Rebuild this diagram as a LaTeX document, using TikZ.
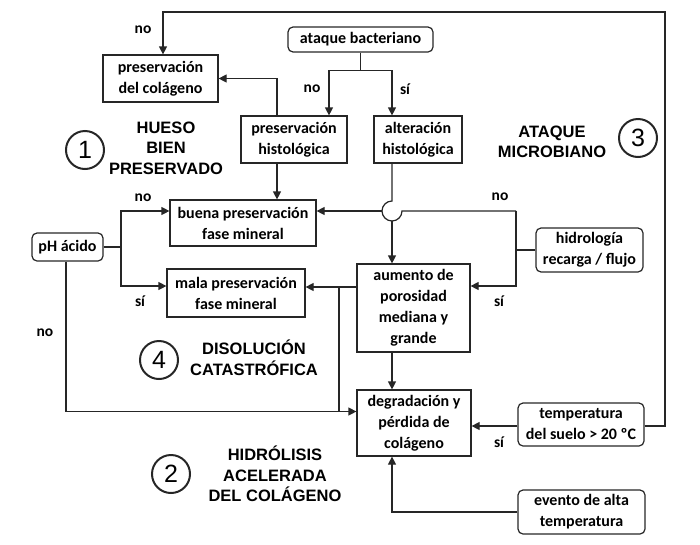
\documentclass[tikz,border=0pt]{standalone}
\usepackage{fontspec}
\setmainfont{Carlito}
\newfontfamily\headfont{Liberation Sans}
\usetikzlibrary{arrows.meta}

\tikzset{
  box/.style={draw, rectangle, line width=1.2pt, align=center, inner sep=0pt,
    font=\bfseries\fontsize{16}{21}\selectfont},
  rbox/.style={box, rounded corners=5pt},
  lbl/.style={font=\bfseries\fontsize{15.5}{18}\selectfont},
  head/.style={align=center, font=\headfont\bfseries\fontsize{16.5}{20.5}\selectfont},
  num/.style={draw, circle, line width=2pt, minimum size=38pt, inner sep=0pt,
    font=\headfont\fontsize{25}{25}\selectfont},
  arr/.style={-{Triangle[length=8pt,width=8pt]}},
}

\begin{document}
\begin{tikzpicture}[x=1pt, y=1pt, line width=1.2pt, draw=black!85]
\useasboundingbox (0,0) rectangle (700,-544);

\node (pcol) [box, minimum width=115pt, minimum height=47pt] at (160.5,-78.5) {preservación\\del colágeno};
\node (ataque) [rbox, minimum width=145pt, minimum height=25pt] at (360.5,-39.5) {ataque bacteriano};
\node (phist) [box, minimum width=106pt, minimum height=47pt] at (294,-139.5) {preservación\\histológica};
\node (ahist) [box, minimum width=88pt, minimum height=47pt] at (418,-139.5) {alteración\\histológica};
\node (buena) [box, minimum width=146pt, minimum height=46pt] at (243,-223) {buena preservación\\fase mineral};
\node (mala) [box, minimum width=138pt, minimum height=48pt] at (236,-293) {mala preservación\\fase mineral};
\node (ph) [rbox, minimum width=71pt, minimum height=28pt] at (67.5,-247) {pH ácido};
\node (aum) [box, minimum width=113pt, minimum height=88pt] at (413.5,-308) {aumento de\\porosidad\\mediana y\\grande};
\node (deg) [box, minimum width=114pt, minimum height=66pt] at (414,-423) {degradación y\\pérdida de\\colágeno};
\node (hidro) [rbox, minimum width=107pt, minimum height=44pt] at (589.5,-250) {hidrología\\recarga / flujo};
\node (temp) [rbox, minimum width=126pt, minimum height=43pt] at (581,-424.5) {temperatura\\del suelo > 20 ºC};
\node (evento) [rbox, minimum width=127pt, minimum height=44pt] at (581.5,-512) {evento de alta\\temperatura};

\coordinate (topr) at (665,-12);
\coordinate (jc) at (392,-211);
\coordinate (hs) at (516,-250);
\coordinate (phs) at (121,-247);
\coordinate (vs) at (339,-287);

\draw[arr] ([yshift=-1.5]temp.east) -| (topr) -| ([xshift=2.5]pcol.north);
\draw (ataque.south) -- ++(0,-18) coordinate (asp);
\draw[arr] (asp) -| ([xshift=35]phist.north);
\draw[arr] (asp) -| ([xshift=-26]ahist.north);
\draw[arr] ([xshift=-17]phist.north) |- (pcol.east);
\draw[arr] ([xshift=-17]phist.south) -- ([xshift=-17]phist.south |- buena.north);

\draw ([xshift=-26]ahist.south) -- ([yshift=10]jc) arc[start angle=90, end angle=360, radius=10] -- (hs |- jc);
\draw[arr] ([xshift=-10]jc) -- (buena.east |- jc);
\draw[arr] ([yshift=-10]jc) -- (jc |- aum.north);
\draw (hidro.west) -- (hs) -- (hs |- jc);
\draw[arr] (hs) |- ([yshift=22]aum.east);

\draw[arr] ([yshift=21]aum.west) -- ([yshift=21]aum.west -| mala.east);
\draw (vs) -- (vs |- 0,-411.5);
\draw[arr] ([xshift=-1.5]ph.south) |- ([yshift=11.5]deg.west);
\draw (ph.east) -- (phs);
\draw[arr] (phs) |- ([yshift=12]buena.west);
\draw[arr] (phs) |- ([yshift=7]mala.west);

\draw[arr] ([xshift=-21.5]aum.south) -- ([xshift=-21.5]aum.south |- deg.north);
\draw[arr] ([yshift=-1.5]temp.west) -- ([yshift=-1.5]temp.west -| deg.east);
\draw[arr] (evento.west) -| ([xshift=-22]deg.south);

\node[lbl] (l1) at (143,-30) {no};
\node[lbl] (l2) at (312,-89) {no};
\node[lbl] (l3) at (405,-89) {sí};
\node[lbl] (l4) at (500,-197) {no};
\node[lbl] (l5) at (143,-198) {no};
\node[lbl] (l6) at (140,-301) {sí};
\node[lbl] (l7) at (45,-333) {no};
\node[lbl] (l8) at (499,-301) {sí};
\node[lbl] (l9) at (499,-442) {sí};

\node[num] (n1) at (85,-150) {1};
\node[head] (h1) at (166,-148) {HUESO\\BIEN\\PRESERVADO};
\node[num] (n3) at (638,-138) {3};
\node[head] (h3) at (552,-142) {ATAQUE\\MICROBIANO};
\node[num] (n4) at (159,-360) {4};
\node[head] (h4) at (254,-358) {DISOLUCIÓN\\CATASTRÓFICA};
\node[num] (n2) at (171,-474) {2};
\node[head] (h2) at (275,-474) {HIDRÓLISIS\\ACELERADA\\DEL COLÁGENO};
\end{tikzpicture}
\end{document}
